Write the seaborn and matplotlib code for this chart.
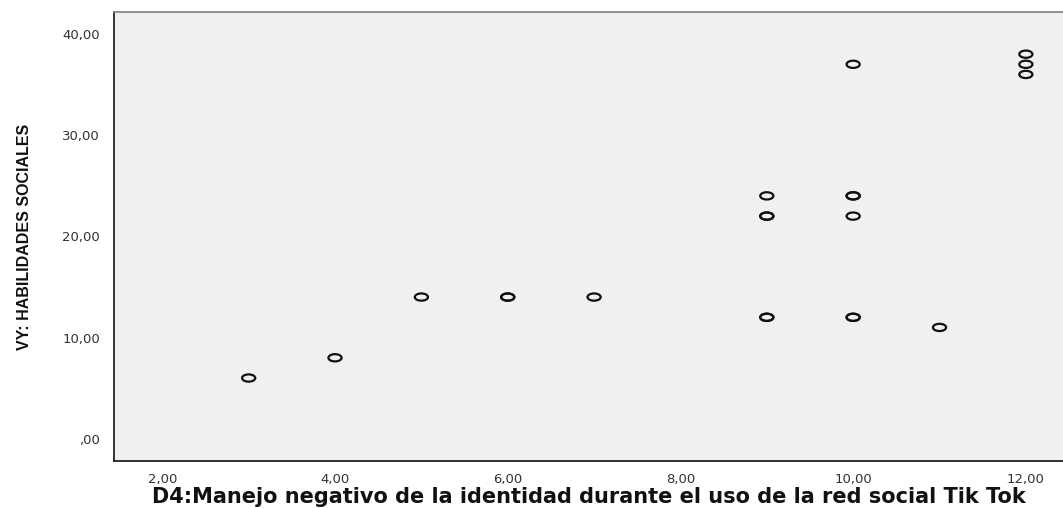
import numpy as np
import pandas as pd
import matplotlib
matplotlib.use("Agg")
import matplotlib.pyplot as plt
from matplotlib.path import Path
import seaborn as sns

# D4 score (x) vs VY: habilidades sociales (y); repeated rows = overlapping cases
d4 = [3, 4, 5, 6, 6, 7, 9, 9, 9, 9, 9, 10, 10, 10, 10, 10, 10, 11, 12, 12, 12]
vy = [6, 8, 14, 14, 14, 14, 12, 12, 22, 22, 24, 12, 12, 22, 24, 24, 37, 11, 36, 37, 38]
xticks = [2, 4, 6, 8, 10, 12]
yticks = [0, 10, 20, 30, 40]

df = pd.DataFrame({"d4": d4, "vy": vy})

sns.set_style("white")
plt.rcParams["font.family"] = ["DejaVu Sans"]

fig = plt.figure(figsize=(10.63, 5.08), dpi=100)
ax = fig.add_axes([0.1072, 0.0925, 0.8928, 0.8839])
ax.set_facecolor("#f0f0f0")

# squashed circle like the SPSS marker
circ = Path.unit_circle()
oval = Path(circ.vertices * np.array([1.0, 0.55]), circ.codes)

sns.scatterplot(data=df, x="d4", y="vy", ax=ax, marker=oval, s=90,
                facecolors="none", edgecolor="#111111", linewidth=1.6)


def spss_fmt(v):
    s = f"{v:.2f}".replace(".", ",")
    return ",00" if v == 0 else s


ax.set_xlim(1.44, 12.43)
ax.set_ylim(-2.2, 42.17)
ax.set_xticks(xticks)
ax.set_yticks(yticks)
ax.set_xticklabels([spss_fmt(v) for v in xticks])
ax.set_yticklabels([spss_fmt(v) for v in yticks])
ax.tick_params(axis="both", direction="out", width=1.3, color="#222222",
               labelsize=9.5, labelcolor="#333333")
ax.tick_params(axis="x", length=4.5, pad=4)
ax.tick_params(axis="y", length=7, pad=3)

for side in ["left", "bottom"]:
    ax.spines[side].set_color("#222222")
    ax.spines[side].set_linewidth(1.3)
ax.spines["top"].set_color("#888888")
ax.spines["top"].set_linewidth(1.3)
ax.spines["right"].set_visible(False)

ax.set_xlabel("D4:Manejo negativo de la identidad durante el uso de la red social Tik Tok",
              fontsize=15, fontweight="bold", labelpad=1, color="#111111")
ax.set_ylabel("VY: HABILIDADES SOCIALES", fontsize=11.5, fontweight="bold",
              family=["Liberation Sans", "DejaVu Sans"], labelpad=22, color="#111111")

fig.savefig("out.png", dpi=100)
